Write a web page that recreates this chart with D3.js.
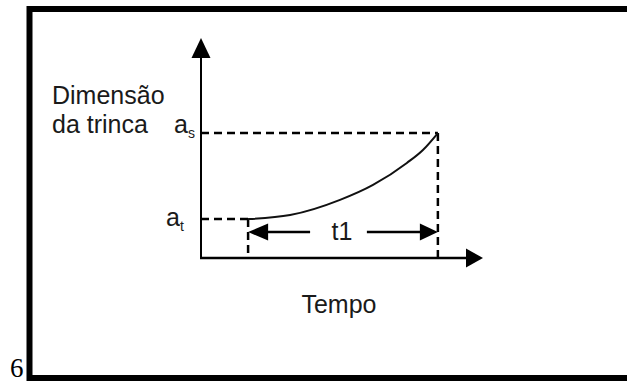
<!DOCTYPE html>
<html lang="pt">
<head>
  <meta charset="UTF-8">
  <title>Dimensão da trinca x Tempo</title>
  <style>
    html, body { margin: 0; padding: 0; background: #fff; }
    svg { display: block; }
    text { font-family: "Liberation Sans", Arial, sans-serif; fill: #1a1a1a; }
  </style>
</head>
<body>
<div id="chart"></div>

<script src="https://cdn.jsdelivr.net/npm/d3@7/dist/d3.min.js"></script>
<script>
  // curva de crescimento da trinca (unidades arbitrárias)
  const tempo    = [16.7, 31.6, 49.3, 61.0, 73.0, 78.7, 84.0];
  const dimensao = [17.7, 19.5, 26.4, 33.2, 43.2, 49.1, 56.8];

  // rótulos
  const yLabel = ["Dimensão", "da trinca"];
  const xLabel = "Tempo";
  const intervalLabel = "t1";
  const levelSubs = ["t", "s"];   // a_t (início), a_s (fim)
  const pageNumber = "6";

  const W = 627, H = 383;
  const svg = d3.select("#chart").append("svg")
    .attr("width", W)
    .attr("height", H);

  // moldura
  svg.append("rect")
    .attr("x", 29.5).attr("y", 9)
    .attr("width", 640).attr("height", 369)
    .attr("fill", "none")
    .attr("stroke", "#000")
    .attr("stroke-width", 6);

  svg.append("text")
    .attr("x", 10).attr("y", 377)
    .style("font-family", "'Liberation Serif', 'Times New Roman', serif")
    .style("font-size", "27px")
    .style("fill", "#000")
    .text(pageNumber);

  const x = d3.scaleLinear().domain([0, 100]).range([201, 483]);
  const y = d3.scaleLinear().domain([0, 100]).range([258, 38]);

  const data = tempo.map((t, i) => ({ t: t, a: dimensao[i] }));
  const first = data[0], last = data[data.length - 1];

  // eixos com setas
  svg.append("line")
    .attr("x1", x(0)).attr("y1", y(0) + 1)
    .attr("x2", x(0)).attr("y2", y(92))
    .attr("stroke", "#000").attr("stroke-width", 2);

  svg.append("line")
    .attr("x1", x(0) - 1).attr("y1", y(0))
    .attr("x2", x(94)).attr("y2", y(0))
    .attr("stroke", "#000").attr("stroke-width", 2.5);

  svg.append("path")
    .attr("d", `M${x(0)},${y(100)} L${x(0) - 9.5},${y(100) + 20} L${x(0) + 9.5},${y(100) + 20} Z`)
    .attr("fill", "#000");

  svg.append("path")
    .attr("d", `M${x(100)},${y(0)} L${x(100) - 17},${y(0) - 9.5} L${x(100) - 17},${y(0) + 9.5} Z`)
    .attr("fill", "#000");

  // linhas tracejadas de referência
  const dash = g => g.attr("stroke", "#000").attr("stroke-width", 2.5)
    .attr("stroke-dasharray", "8,5").attr("fill", "none");

  svg.append("line").call(dash)
    .attr("x1", x(0)).attr("y1", y(first.a))
    .attr("x2", x(first.t)).attr("y2", y(first.a));
  svg.append("line").call(dash)
    .attr("x1", x(first.t)).attr("y1", y(first.a))
    .attr("x2", x(first.t)).attr("y2", y(0));

  svg.append("line").call(dash)
    .attr("x1", x(0)).attr("y1", y(last.a))
    .attr("x2", x(last.t)).attr("y2", y(last.a));
  svg.append("line").call(dash)
    .attr("x1", x(last.t)).attr("y1", y(last.a))
    .attr("x2", x(last.t)).attr("y2", y(0));

  // curva
  const line = d3.line()
    .x(d => x(d.t))
    .y(d => y(d.a))
    .curve(d3.curveMonotoneX);

  svg.append("path")
    .datum(data)
    .attr("fill", "none")
    .attr("stroke", "#111")
    .attr("stroke-width", 2)
    .attr("d", line);

  // seta dupla t1
  const ay = y(first.a) + 13;
  const x0 = x(first.t), x1 = x(last.t);
  svg.append("path")
    .attr("d", `M${x0},${ay} L${x0 + 20},${ay - 8.5} L${x0 + 20},${ay + 8.5} Z`)
    .attr("fill", "#000");
  svg.append("path")
    .attr("d", `M${x1},${ay} L${x1 - 18},${ay - 8.5} L${x1 - 18},${ay + 8.5} Z`)
    .attr("fill", "#000");
  svg.append("line")
    .attr("x1", x0 + 18).attr("y1", ay).attr("x2", x0 + 62).attr("y2", ay)
    .attr("stroke", "#000").attr("stroke-width", 2.5);
  svg.append("line")
    .attr("x1", x1 - 71).attr("y1", ay).attr("x2", x1 - 16).attr("y2", ay)
    .attr("stroke", "#000").attr("stroke-width", 2.5);

  svg.append("text")
    .attr("x", (x0 + x1) / 2 - 1).attr("y", ay + 8)
    .attr("text-anchor", "middle")
    .style("font-size", "25px")
    .text(intervalLabel);

  // rótulos dos níveis a_t e a_s
  [first, last].forEach((d, i) => {
    const t = svg.append("text")
      .attr("x", x(0) - (i === 0 ? 35 : 27))
      .attr("y", y(d.a) + (i === 0 ? 7 : 0))
      .style("font-size", "25px");
    t.append("tspan").text("a");
    t.append("tspan").attr("dy", 5).style("font-size", "14px").text(levelSubs[i]);
  });

  // título do eixo y
  svg.append("text")
    .attr("x", 52).attr("y", 104)
    .style("font-size", "25px")
    .selectAll("tspan")
    .data(yLabel)
    .join("tspan")
    .attr("x", 52)
    .attr("dy", (d, i) => i === 0 ? 0 : 29)
    .text(d => d);

  // título do eixo x
  svg.append("text")
    .attr("x", 339).attr("y", 313)
    .attr("text-anchor", "middle")
    .style("font-size", "25px")
    .text(xLabel);
</script>
</body>
</html>
